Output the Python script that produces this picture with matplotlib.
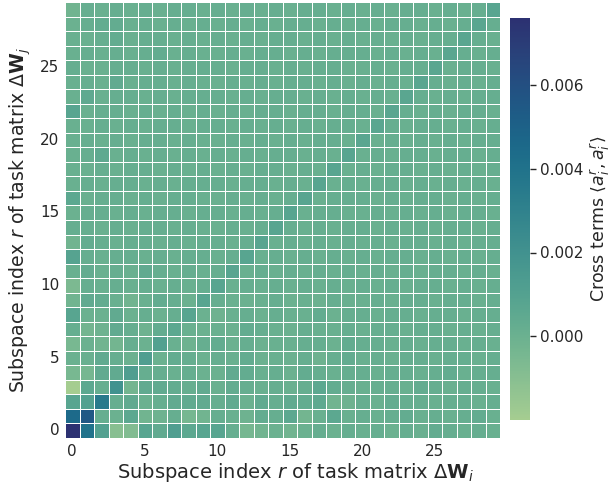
import numpy as np
import matplotlib
matplotlib.use('Agg')
import matplotlib.pyplot as plt
import seaborn as sns

# cross terms, units of 1e-4, row 0 = bottom row (subspace index of W_j)
rows = [
    [76, 40, 10, -10, -8, 8, 4, 12, 6, 8, 8, 2, -4, -2, 0, -2, 0, 2, 0, 2, 1, 2, 0, 2, 1, 3, 2, 1, 2, 1],
    [45, 55, 2, 0, 6, -2, -1, 2, -4, -2, 2, 1, -1, 3, 2, 6, -3, 1, 6, 1, 2, 1, 2, 3, 1, 2, 1, 2, 3, 1],
    [8, 10, 35, 2, 4, 0, 2, 4, 4, 4, 2, 4, 0, 4, 2, 4, 3, 5, -2, -1, 2, 1, 3, 2, 2, 1, 2, 2, 1, 2],
    [-20, 6, 2, 20, -3, 4, 4, 3, 2, 4, 1, 3, 2, 1, 2, 1, 2, 6, 3, 2, 1, 2, 2, 1, 3, 2, 1, 2, 2, 1],
    [-5, -4, 4, 4, 12, 2, 2, 1, 2, 0, 0, 4, 3, 1, 2, 0, 3, 2, 1, 2, 2, 1, 2, 2, 1, 2, 3, 1, 2, 2],
    [0, 1, 4, 2, 0, 12, 0, 3, 2, 0, 2, 1, 3, 0, 1, 0, 2, -1, 2, 3, 1, 2, 1, 2, 2, 1, 2, 2, 1, 2],
    [-5, 0, -2, -3, 2, 0, 10, 1, -1, 2, 3, 0, 2, 0, 1, 1, 2, 2, 0, 3, 2, 2, 1, 2, 1, 2, 2, 1, 2, 1],
    [2, -3, -1, 4, 2, -1, 3, 6, 1, 0, 1, 0, 3, 2, 1, 0, 2, 1, 1, 2, 1, 2, 2, 1, 2, 2, 1, 2, 1, 2],
    [8, 0, 0, 4, 0, 2, 0, 2, 8, 0, -1, 1, 2, 0, 2, 1, 1, 3, 0, 2, 2, 1, 2, 2, 1, 2, 2, 1, 2, 2],
    [-2, 4, 3, 1, -2, 1, 3, 2, 0, 8, 2, 1, 0, 1, 2, 0, 1, 0, 2, 1, 1, 2, 1, 2, 2, 1, 2, 2, 1, 2],
    [-6, 2, 1, 2, 1, 2, 1, 2, 1, 2, 8, 1, 2, 1, 2, 1, 2, 1, 2, 1, 2, 1, 2, 1, 2, 2, 1, 2, 1, 2],
    [1, 3, 1, 2, 1, 4, 2, 1, 2, 1, 2, 8, 1, 2, 1, 2, 1, 2, 1, 2, 1, 2, 1, 2, 1, 2, 2, 1, 2, 1],
    [9, 2, 1, 2, 2, 1, 2, 1, 2, 2, 1, 2, 8, 1, 2, 1, 2, 1, 2, 1, 2, 1, 2, 2, 1, 2, 1, 2, 1, 2],
    [-2, 3, 2, 1, 2, 2, 1, 2, 1, 2, 2, 1, 2, 8, 1, 2, 1, 2, 1, 2, 1, 2, 1, 2, 2, 1, 2, 1, 2, 2],
    [2, 2, 1, 2, 1, 2, 2, 1, 2, 1, 1, 2, 1, 2, 8, 2, 1, 2, 1, 2, 2, 1, 2, 1, 2, 1, 2, 2, 1, 2],
    [0, 2, 2, 1, 2, 1, 2, 2, 1, 2, 2, 1, 2, 1, 2, 8, 1, 2, 2, 1, 1, 2, 1, 2, 1, 2, 1, 2, 2, 1],
    [6, 1, 2, 2, 1, 2, 1, 2, 2, 1, 1, 2, 1, 2, 1, 2, 8, 1, 2, 2, 2, 1, 2, 1, 2, 2, 1, 2, 1, 2],
    [1, 2, 1, 2, 2, 1, 2, 1, 2, 2, 2, 1, 2, 2, 1, 2, 1, 8, 1, 2, 1, 2, 2, 1, 2, 1, 2, 1, 2, 1],
    [1, 1, 2, 1, 2, 2, 1, 2, 1, 2, 1, 2, 1, 2, 2, 1, 2, 1, 8, 1, 2, 1, 2, 2, 1, 2, 1, 2, 1, 2],
    [1, 2, 5, 1, 2, 1, 2, 1, 2, 1, 2, 1, 2, 1, 2, 2, 1, 2, 1, 8, 1, 2, 1, 2, 2, 1, 2, 2, 1, 2],
    [1, 2, 1, 2, 1, 2, 2, 1, 2, 1, 1, 2, 1, 2, 1, 2, 1, 2, 2, 1, 7, 1, 2, 1, 2, 1, 2, 1, 2, 2],
    [1, 1, 2, 1, 2, 1, 2, 2, 1, 2, 2, 1, 2, 1, 2, 1, 2, 1, 2, 2, 1, 7, 2, 1, 2, 2, 1, 2, 1, 2],
    [8, 1, 2, 2, 1, 2, 1, 2, 1, 2, 1, 2, 1, 2, 2, 1, 2, 2, 1, 2, 2, 1, 7, 2, 1, 2, 1, 2, 2, 1],
    [1, 5, 1, 2, 2, 1, 2, 1, 2, 2, 2, 1, 2, 1, 2, 2, 1, 2, 1, 2, 1, 2, 1, 7, 2, 1, 2, 1, 2, 2],
    [1, 2, 1, 4, 1, 2, 2, 1, 2, 1, 1, 2, 1, 2, 1, 2, 2, 1, 2, 1, 2, 1, 2, 1, 7, 2, 1, 2, 1, 2],
    [2, 1, 1, 2, 2, 1, 2, 1, 2, 2, 2, 1, 2, 2, 1, 2, 1, 2, 2, 1, 1, 2, 1, 2, 2, 7, 1, 2, 2, 1],
    [1, 2, 1, 2, 1, 2, 3, 1, 2, 1, 1, 2, 1, 2, 2, 1, 2, 1, 2, 2, 2, 1, 2, 1, 2, 1, 7, 2, 1, 2],
    [1, 1, 2, 3, 1, 2, 2, 1, 2, 1, 2, 1, 2, 1, 2, 2, 1, 2, 1, 2, 1, 2, 1, 2, 1, 2, 2, 7, 2, 1],
    [0, 2, 3, 3, 1, 2, 1, 2, 1, 2, 1, 2, 1, 2, 1, 2, 2, 1, 2, 1, 2, 1, 2, 2, 1, 2, 1, 2, 7, 2],
    [-2, 2, 1, 2, 1, 2, 1, 2, 2, 1, 2, 1, 2, 1, 2, 1, 2, 2, 1, 2, 1, 2, 1, 2, 2, 1, 2, 1, 2, 8],
]
scale = 1e-4
cbar_ticks = [0.000, 0.002, 0.004, 0.006]

data = np.array(rows) * scale
txt = '#262626'
plt.rcParams['text.color'] = txt
plt.rcParams['axes.labelcolor'] = txt
plt.rcParams['xtick.color'] = txt
plt.rcParams['ytick.color'] = txt

fig = plt.figure(figsize=(6.08, 4.88), dpi=100)
ax = fig.add_axes([65 / 608, 50 / 488, 435 / 608, 436 / 488])
cax = fig.add_axes([510 / 608, 68 / 488, 20 / 608, 402 / 488])

cmap = sns.color_palette('crest', as_cmap=True)
sns.heatmap(data, ax=ax, cbar_ax=cax, cmap=cmap, linewidths=0.6, linecolor='white',
            xticklabels=5, yticklabels=5)
ax.invert_yaxis()
ax.tick_params(length=0, labelsize=11, pad=4)
ax.set_yticklabels(ax.get_yticklabels(), rotation=0)
ax.set_xlabel(r'Subspace index $r$ of task matrix $\Delta\mathbf{W}_i$', fontsize=14, labelpad=2)
ax.xaxis.label.set_x(0.53)
ax.set_ylabel(r'Subspace index $r$ of task matrix $\Delta\mathbf{W}_j$', fontsize=13.6, labelpad=5)

cax.set_yticks(cbar_ticks)
cax.set_yticklabels(['%.3f' % t for t in cbar_ticks])
cax.tick_params(labelsize=11, length=4, width=1)
cax.set_ylabel(r'Cross terms $\langle a_i^r, a_j^r\rangle$', fontsize=12.5, labelpad=3)

fig.savefig('out.png', dpi=100)
